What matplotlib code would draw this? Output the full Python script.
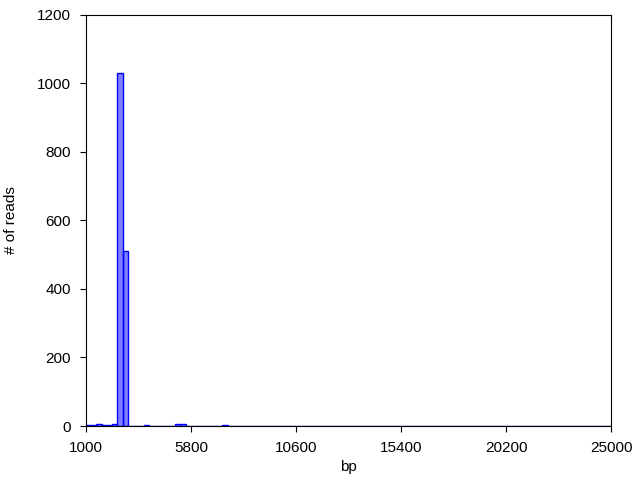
import numpy as np
import matplotlib
matplotlib.use('Agg')
import matplotlib.pyplot as plt

# Read-length histogram: 100 bins of 240 bp from 1000 to 25000
bin_start = 1000
bin_end = 25000
n_bins = 100
# counts per non-empty bin (bin index -> # of reads)
bin_index = [0, 1, 2, 3, 4, 5, 6, 7, 11, 17, 18, 26]
bin_count = [2, 2, 5, 2, 2, 5, 1030, 512, 3, 5, 5, 3]
x_ticks = [1000, 5800, 10600, 15400, 20200, 25000]
y_ticks = [0, 200, 400, 600, 800, 1000, 1200]


def main():
    plt.rcParams['font.family'] = ['Liberation Sans', 'DejaVu Sans']
    plt.rcParams['font.size'] = 11

    edges = np.linspace(bin_start, bin_end, n_bins + 1)
    counts = np.zeros(n_bins)
    counts[bin_index] = bin_count

    fig, ax = plt.subplots(figsize=(6.4, 4.8), dpi=100)
    fig.subplots_adjust(left=0.134, right=0.955, top=0.969, bottom=0.1125)

    ax.hist(edges[:-1], bins=edges, weights=counts, facecolor=(0, 0, 1, 0.5),
            edgecolor='blue', linewidth=1)

    ax.set_xlim(bin_start, bin_end)
    ax.set_ylim(0, 1200)
    ax.set_xticks(x_ticks)
    ax.set_yticks(y_ticks)
    ax.tick_params(direction='out', top=False, right=False, length=4,
                   color='black', pad=6.5)
    ax.set_xlabel('bp')
    ax.set_ylabel('# of reads', labelpad=14)

    fig.savefig('out.png', dpi=100)


if __name__ == '__main__':
    main()
